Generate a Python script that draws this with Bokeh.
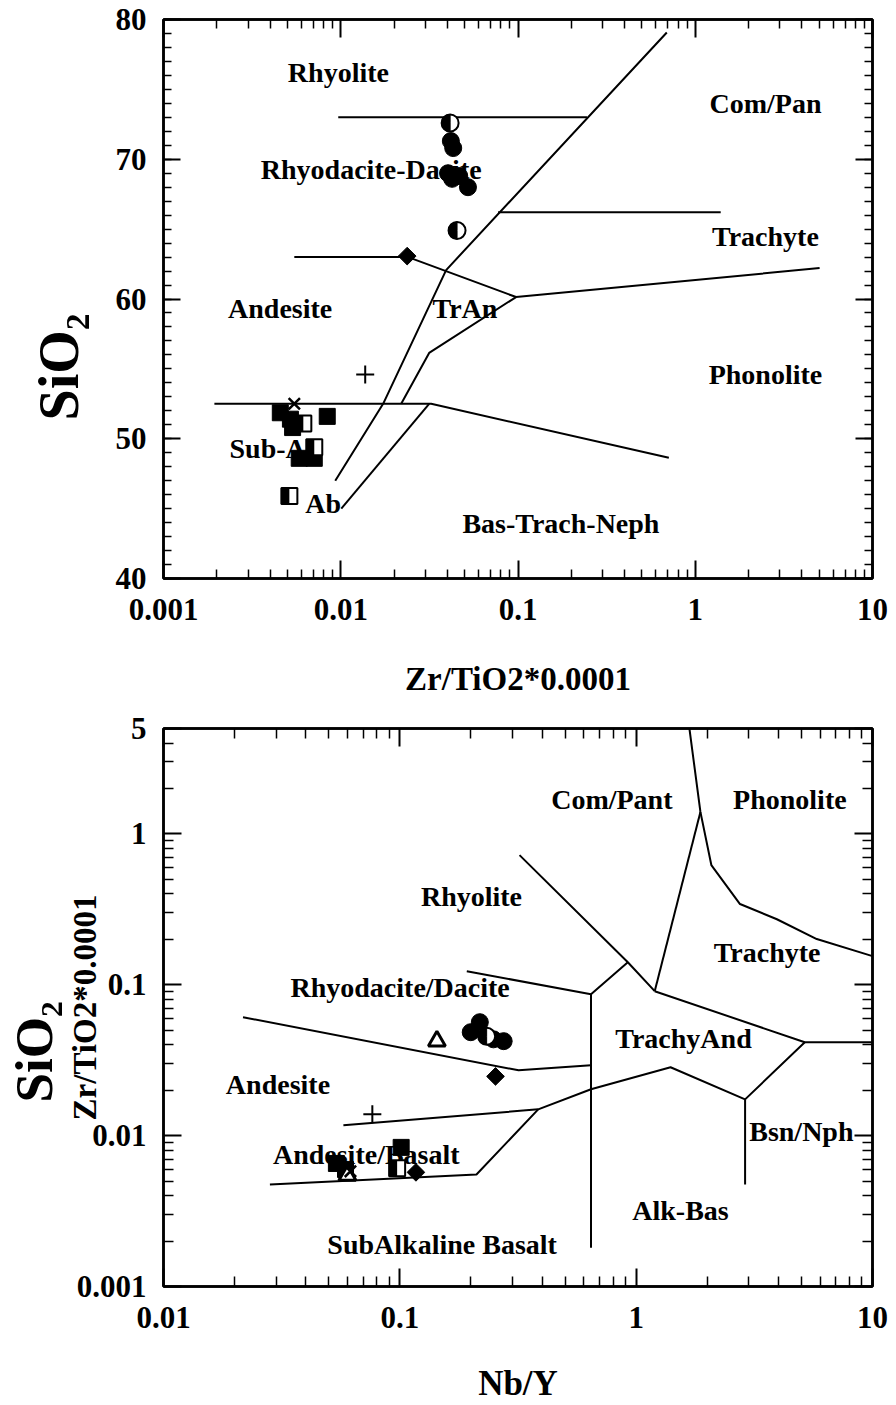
import math
from bokeh.plotting import figure
from bokeh.models import Range1d, FixedTicker, LinearAxis, LogAxis, Title
from bokeh.layouts import column
from bokeh.embed import file_html
from bokeh.resources import INLINE
from bokeh.core.properties import value

# ---------------- Panel 1: SiO2 vs Zr/TiO2*0.0001 ----------------
p1_line_x = [
    [0.00968, 0.245],
    [0.0772, 1.392],
    [0.00547, 0.02399, 0.0975, 5.03],
    [0.00931, 0.01734, 0.0393, 0.691],
    [0.01007, 0.03153],
    [0.02193, 0.03153, 0.0975],
    [0.001937, 0.03236, 0.7096],
]
p1_line_y = [
    [73.0, 73.0],
    [66.21, 66.21],
    [63.0, 63.0, 60.14, 62.21],
    [47.0, 52.5, 62.07, 79.07],
    [45.0, 52.5],
    [52.5, 56.14, 60.14],
    [52.5, 52.5, 48.64],
]
p1_names = ["Rhyolite", "Com/Pan", "Rhyodacite-Dacite", "Trachyte", "Andesite",
            "TrAn", "Phonolite", "Sub-Ab", "Ab", "Bas-Trach-Neph"]
p1_name_x = [0.0097, 2.49, 0.01486, 2.49, 0.00455, 0.0502, 2.49, 0.00428, 0.00796, 0.1746]
p1_name_y = [76.2, 74.0, 69.3, 64.5, 59.3, 59.3, 54.6, 49.3, 45.4, 43.9]

p1_circ_x = [0.0418, 0.0431, 0.0403, 0.0425, 0.0466, 0.0522]
p1_circ_y = [71.3, 70.8, 69.0, 68.6, 68.8, 68.0]
p1_hcirc_x = [0.0414, 0.0453]
p1_hcirc_y = [72.6, 64.9]
p1_sq_x = [0.00456, 0.00520, 0.00535, 0.00839, 0.00583, 0.00709]
p1_sq_y = [51.86, 51.4, 50.8, 51.6, 48.6, 48.6]
p1_hsq_x = [0.00615, 0.00709, 0.00513]
p1_hsq_y = [51.1, 49.4, 45.9]
p1_dia_x = [0.0237]
p1_dia_y = [63.07]
p1_plus_x = [0.01374]
p1_plus_y = [54.6]
p1_xm_x = [0.00547]
p1_xm_y = [52.5]

# ---------------- Panel 2: Zr/TiO2*0.0001 vs Nb/Y ----------------
p2_line_x = [
    [1.68, 1.87, 2.08, 2.75, 3.94, 5.81, 10.0],
    [1.87, 1.198],
    [0.321, 0.922, 1.198],
    [0.192, 0.644, 0.922],
    [0.644, 0.644],
    [1.198, 5.17, 10.0],
    [5.17, 2.89, 2.89],
    [0.0577, 0.385, 0.644, 1.398, 2.89],
    [0.0282, 0.211, 0.385],
    [0.0217, 0.318, 0.644],
]
p2_line_y = [
    [5.0, 1.40, 0.622, 0.343, 0.272, 0.201, 0.155],
    [1.40, 0.0907],
    [0.724, 0.141, 0.0907],
    [0.123, 0.0866, 0.141],
    [0.0866, 0.00181],
    [0.0907, 0.0416, 0.0416],
    [0.0416, 0.0174, 0.00475],
    [0.0117, 0.01494, 0.0203, 0.0284, 0.0174],
    [0.00475, 0.00553, 0.01494],
    [0.0610, 0.0271, 0.0293],
]
p2_names = ["Com/Pant", "Phonolite", "Rhyolite", "Trachyte", "Rhyodacite/Dacite",
            "TrachyAnd", "Andesite", "Andesite/Basalt", "Bsn/Nph", "Alk-Bas",
            "SubAlkaline Basalt"]
p2_name_x = [0.789, 4.47, 0.201, 3.58, 0.1003, 1.586, 0.0305, 0.0721, 5.0, 1.54, 0.151]
p2_name_y = [1.70, 1.70, 0.387, 0.164, 0.0964, 0.0443, 0.0219, 0.00752, 0.01068, 0.00319, 0.0019]

p2_circ_x = [0.1995, 0.218, 0.249, 0.275]
p2_circ_y = [0.0485, 0.0565, 0.0435, 0.0423]
p2_hcirc_x = [0.233]
p2_hcirc_y = [0.0456]
p2_sq_x = [0.0539, 0.0589, 0.1013]
p2_sq_y = [0.00654, 0.00597, 0.00836]
p2_hsq_x = [0.0974]
p2_hsq_y = [0.00607]
p2_tri_x = [0.1435, 0.060]
p2_tri_y = [0.0423, 0.00546]
p2_dia_x = [0.254, 0.117]
p2_dia_y = [0.0247, 0.00571]
p2_plus_x = [0.0765]
p2_plus_y = [0.01384]
p2_xm_x = [0.0618]
p2_xm_y = [0.0058]

FONT = "Liberation Serif"


def decade_minors(decades, mults):
    return [m * d for d in decades for m in mults]


def style_axis(ax, maj, mnr, show_labels=True):
    ax.axis_line_width = 2.5
    ax.axis_line_color = "black"
    ax.major_tick_in = maj
    ax.major_tick_out = 0
    ax.minor_tick_in = mnr
    ax.minor_tick_out = 0
    ax.major_tick_line_width = 2
    ax.minor_tick_line_width = 1.5
    ax.major_tick_line_color = "black"
    ax.minor_tick_line_color = "black"
    ax.major_label_text_font = FONT
    ax.major_label_text_font_style = "bold"
    ax.axis_label_text_font = FONT
    ax.axis_label_text_font_style = "bold"
    ax.axis_label_text_color = "black"
    if show_labels:
        ax.major_label_text_font_size = "31px"
        ax.major_label_text_color = "black"
    else:
        ax.major_label_text_font_size = "6px"
        ax.major_label_text_alpha = 0
        ax.major_label_standoff = 0


def add_names(p, xs, ys, names):
    p.text(x=xs, y=ys, text=names, text_font=value(FONT), text_font_style="bold",
           text_font_size="28px", text_align="center", text_baseline="middle",
           text_color="black")


def add_points(p, d):
    p.scatter(d["cx"], d["cy"], marker="circle", size=17, fill_color="black", line_color="black")
    p.scatter(d["hcx"], d["hcy"], marker="circle", size=17, fill_color="white",
              line_color="black", line_width=2)
    p.wedge(d["hcx"], d["hcy"], radius=8.5, radius_units="screen",
            start_angle=math.pi / 2, end_angle=3 * math.pi / 2,
            fill_color="black", line_color="black")
    p.scatter(d["sx"], d["sy"], marker="square", size=16, fill_color="black", line_color="black")
    p.scatter(d["hsx"], d["hsy"], marker="square", size=16, fill_color="white",
              line_color="black", line_width=2)
    p.ray(d["hsx"], d["hsy"], length=8, length_units="screen", angle=math.pi,
          line_width=16, line_cap="butt", line_color="black")
    if "tx" in d:
        p.scatter(d["tx"], d["ty"], marker="triangle", size=17, fill_color="white",
                  line_color="black", line_width=3)
    p.scatter(d["dx"], d["dy"], marker="square", angle=math.pi / 4, size=12.5,
              fill_color="black", line_color="black")
    p.scatter(d["px"], d["py"], marker="cross", size=18, line_color="black", line_width=2)
    p.scatter(d["xx"], d["xy"], marker="x", size=16, line_color="black", line_width=2.5)


def side_title(p, text, offset, standoff, size):
    p.add_layout(Title(text=text, align="left", offset=offset, standoff=standoff,
                       vertical_align="middle", text_font=FONT, text_font_style="bold",
                       text_font_size=size, text_color="black"), "left")


# ---------- figure 1 ----------
x1_major = [0.001, 0.01, 0.1, 1, 10]
x1_minor = decade_minors([0.001, 0.01, 0.1, 1], range(2, 10))
y1_major = [40, 50, 60, 70, 80]
y1_minor = list(range(40, 81))

p1 = figure(width=896, height=712, x_axis_type="log",
            x_range=Range1d(0.001, 10), y_range=Range1d(40, 80),
            output_backend="svg", toolbar_location=None,
            min_border_left=162, min_border_right=24, min_border_top=19,
            min_border_bottom=134)
p1.grid.visible = False
p1.outline_line_color = "black"
p1.outline_line_width = 2.5
xt1 = FixedTicker(ticks=x1_major, minor_ticks=x1_minor)
yt1 = FixedTicker(ticks=y1_major, minor_ticks=y1_minor)
p1.xaxis.ticker = xt1
p1.yaxis.ticker = yt1
p1.xaxis.major_label_overrides = {0.001: "0.001", 0.01: "0.01", 0.1: "0.1", 1: "1", 10: "10"}
style_axis(p1.xaxis[0], 18, 9)
style_axis(p1.yaxis[0], 17, 8)
p1.xaxis.major_label_standoff = 20
p1.yaxis.major_label_standoff = 17
p1.xaxis.axis_label = "Zr/TiO2*0.0001"
p1.xaxis.axis_label_text_font_size = "33px"
p1.xaxis.axis_label_standoff = 38
top1 = LogAxis(ticker=xt1)
style_axis(top1, 18, 9, False)
right1 = LinearAxis(ticker=yt1)
style_axis(right1, 17, 8, False)
p1.add_layout(top1, "above")
p1.add_layout(right1, "right")
side_title(p1, "SiO\u2082", 158, 43, "56px")

add_names(p1, p1_name_x, p1_name_y, p1_names)
p1.multi_line(p1_line_x, p1_line_y, line_color="black", line_width=2)
add_points(p1, dict(cx=p1_circ_x, cy=p1_circ_y, hcx=p1_hcirc_x, hcy=p1_hcirc_y,
                    sx=p1_sq_x, sy=p1_sq_y, hsx=p1_hsq_x, hsy=p1_hsq_y,
                    dx=p1_dia_x, dy=p1_dia_y, px=p1_plus_x, py=p1_plus_y,
                    xx=p1_xm_x, xy=p1_xm_y))

# ---------- figure 2 ----------
x2_major = [0.01, 0.1, 1, 10]
x2_minor = decade_minors([0.01, 0.1, 1], range(2, 10))
y2_major = [0.001, 0.01, 0.1, 1, 5]
y2_minor = decade_minors([0.001, 0.01, 0.1], range(2, 10)) + [2, 3, 4]

p2 = figure(width=896, height=693, x_axis_type="log", y_axis_type="log",
            x_range=Range1d(0.01, 10), y_range=Range1d(0.001, 5),
            output_backend="svg", toolbar_location=None,
            min_border_left=163, min_border_right=20, min_border_top=16,
            min_border_bottom=118)
p2.grid.visible = False
p2.outline_line_color = "black"
p2.outline_line_width = 2.5
xt2 = FixedTicker(ticks=x2_major, minor_ticks=x2_minor)
yt2 = FixedTicker(ticks=y2_major, minor_ticks=y2_minor)
p2.xaxis.ticker = xt2
p2.yaxis.ticker = yt2
p2.xaxis.major_label_overrides = {0.01: "0.01", 0.1: "0.1", 1: "1", 10: "10"}
p2.yaxis.major_label_overrides = {0.001: "0.001", 0.01: "0.01", 0.1: "0.1", 1: "1", 5: "5"}
style_axis(p2.xaxis[0], 18, 10)
style_axis(p2.yaxis[0], 18, 10)
p2.xaxis.major_label_standoff = 20
p2.yaxis.major_label_standoff = 17
p2.xaxis.axis_label = "Nb/Y"
p2.xaxis.axis_label_text_font_size = "35px"
p2.xaxis.axis_label_standoff = 33
p2.yaxis.axis_label = "Zr/TiO2*0.0001"
p2.yaxis.axis_label_text_font_size = "33px"
p2.yaxis.axis_label_standoff = -29
top2 = LogAxis(ticker=xt2)
style_axis(top2, 18, 10, False)
right2 = LogAxis(ticker=yt2)
style_axis(right2, 18, 10, False)
p2.add_layout(top2, "above")
p2.add_layout(right2, "right")
side_title(p2, "SiO\u2082", 184, 0, "53px")

add_names(p2, p2_name_x, p2_name_y, p2_names)
p2.multi_line(p2_line_x, p2_line_y, line_color="black", line_width=2)
add_points(p2, dict(cx=p2_circ_x, cy=p2_circ_y, hcx=p2_hcirc_x, hcy=p2_hcirc_y,
                    sx=p2_sq_x, sy=p2_sq_y, hsx=p2_hsq_x, hsy=p2_hsq_y,
                    tx=p2_tri_x, ty=p2_tri_y,
                    dx=p2_dia_x, dy=p2_dia_y, px=p2_plus_x, py=p2_plus_y,
                    xx=p2_xm_x, xy=p2_xm_y))

layout = column(p1, p2)
open("out.html", "w").write(file_html(layout, INLINE))
